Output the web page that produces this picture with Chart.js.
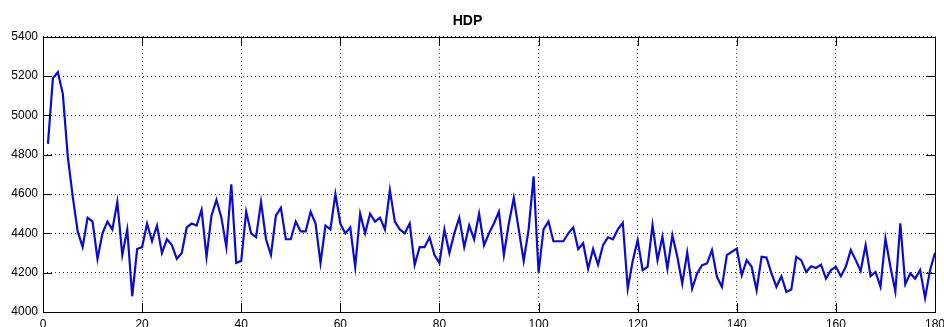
<!DOCTYPE html>
<html>
<head>
  <title>HDP</title>
  <script src="https://cdn.jsdelivr.net/npm/chart.js"></script>
  <style>
    html, body { margin: 0; padding: 0; background: #fff; }
    #wrap { width: 944px; height: 327px; }
  </style>
</head>
<body>
  <div id="wrap"><canvas id="hdpChart"></canvas></div>

  <script>
    // HDP values, one per sample (sample 1 .. 180)
    const hdp = [
      4855, 5190, 5220, 5110, 4790, 4587, 4410, 4330, 4480, 4460,
      4270, 4400, 4460, 4420, 4560, 4290, 4420, 4080, 4320, 4330,
      4450, 4360, 4440, 4300, 4370, 4340, 4270, 4300, 4430, 4450,
      4440, 4520, 4280, 4490, 4570, 4480, 4330, 4650, 4250, 4260,
      4510, 4400, 4380, 4560, 4370, 4290, 4490, 4530, 4370, 4370,
      4460, 4410, 4410, 4510, 4450, 4250, 4440, 4420, 4600, 4450,
      4400, 4430, 4230, 4500, 4400, 4500, 4460, 4480, 4420, 4620,
      4460, 4420, 4400, 4450, 4240, 4330, 4330, 4380, 4290, 4250,
      4420, 4300, 4400, 4480, 4330, 4440, 4370, 4500, 4340, 4400,
      4450, 4510, 4290, 4450, 4580, 4420, 4260, 4420, 4690, 4200,
      4420, 4460, 4360, 4360, 4360, 4400, 4430, 4320, 4350, 4220,
      4320, 4240, 4340, 4380, 4370, 4420, 4454, 4119, 4260, 4366,
      4213, 4230, 4442, 4264, 4383, 4221, 4391, 4281, 4145, 4303,
      4119, 4196, 4238, 4247, 4315, 4179, 4128, 4289, 4306, 4323,
      4187, 4264, 4230, 4111, 4281, 4277, 4196, 4128, 4182, 4102,
      4114, 4281, 4264, 4204, 4233, 4224, 4241, 4170, 4213, 4230,
      4182, 4230, 4315, 4264, 4209, 4340, 4182, 4204, 4128, 4374,
      4230, 4105, 4451, 4141, 4196, 4170, 4213, 4071, 4213, 4301
    ];

    const xTicks = [0, 20, 40, 60, 80, 100, 120, 140, 160, 180];
    const yTicks = [4000, 4200, 4400, 4600, 4800, 5000, 5200, 5400];

    const points = hdp.map((v, i) => ({ x: i + 1, y: v }));

    // matlab style box with inward ticks on all four sides
    const boxTicks = {
      id: 'boxTicks',
      afterDraw(chart) {
        const { ctx, chartArea: a, scales } = chart;
        const len = 9;
        ctx.save();
        ctx.strokeStyle = '#000';
        ctx.lineWidth = 1;
        ctx.beginPath();
        xTicks.forEach(t => {
          const px = Math.round(scales.x.getPixelForValue(t)) + 0.5;
          ctx.moveTo(px, a.bottom); ctx.lineTo(px, a.bottom - len);
          ctx.moveTo(px, a.top); ctx.lineTo(px, a.top + len);
        });
        yTicks.forEach(t => {
          const py = Math.round(scales.y.getPixelForValue(t)) + 0.5;
          ctx.moveTo(a.left, py); ctx.lineTo(a.left + len, py);
          ctx.moveTo(a.right, py); ctx.lineTo(a.right - len, py);
        });
        ctx.stroke();
        ctx.strokeRect(Math.round(a.left) + 0.5, Math.round(a.top) + 0.5,
          Math.round(a.right - a.left), Math.round(a.bottom - a.top));
        ctx.restore();
      }
    };

    const tickFont = { family: 'Liberation Sans, Arial, sans-serif', size: 12 };

    new Chart(document.getElementById('hdpChart'), {
      type: 'line',
      data: {
        datasets: [{
          label: 'HDP',
          data: points,
          borderColor: '#0b0bd0',
          borderWidth: 2.2,
          pointRadius: 0,
          tension: 0,
          fill: false
        }]
      },
      options: {
        responsive: true,
        maintainAspectRatio: false,
        animation: false,
        events: [],
        layout: { padding: { left: 0, right: 9, top: 0, bottom: 0 } },
        plugins: {
          legend: { display: false },
          tooltip: { enabled: false },
          title: {
            display: true,
            text: 'HDP',
            color: '#000',
            font: { family: 'Liberation Sans, Arial, sans-serif', size: 14, weight: 'bold' },
            padding: { top: 13, bottom: 7 }
          }
        },
        scales: {
          x: {
            type: 'linear',
            min: 0,
            max: 180,
            afterBuildTicks: s => { s.ticks = xTicks.map(v => ({ value: v })); },
            afterFit: s => { s.height = 15; s.paddingLeft = 0; s.paddingRight = 0; },
            border: { display: false, dash: [1, 3] },
            grid: { color: '#333', drawTicks: false, lineWidth: 1 },
            ticks: {
              color: '#000',
              padding: 5,
              maxRotation: 0,
              font: tickFont,
              callback: v => String(v)
            }
          },
          y: {
            min: 4000,
            max: 5400,
            afterBuildTicks: s => { s.ticks = yTicks.map(v => ({ value: v })); },
            afterFit: s => { s.width = 43; s.paddingTop = 0; s.paddingBottom = 0; },
            border: { display: false, dash: [1, 3] },
            grid: { color: '#333', drawTicks: false, lineWidth: 1 },
            ticks: {
              color: '#000',
              padding: 5,
              font: tickFont,
              callback: v => String(v)
            }
          }
        }
      },
      plugins: [boxTicks]
    });
  </script>
</body>
</html>
